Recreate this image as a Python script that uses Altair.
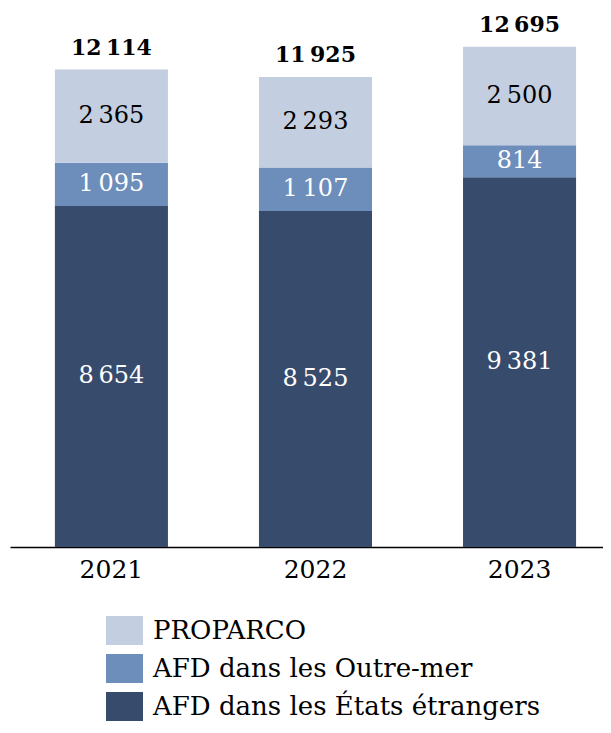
import altair as alt
import pandas as pd

FONT = "DejaVu Serif"

years = ["2021", "2022", "2023"]
etrangers = [8654, 8525, 9381]
outremer = [1095, 1107, 814]
proparco = [2365, 2293, 2500]
totals = [12114, 11925, 12695]
series = ["PROPARCO", "AFD dans les Outre-mer", "AFD dans les États étrangers"]
colors = ["#C3CEE0", "#6D8DBA", "#374B6C"]
label_colors = ["#000000", "#FFFFFF", "#FFFFFF"]


def fmt(v):
    return f"{v:,}".replace(",", "\u202f")


rows = []
for i, yr in enumerate(years):
    for order, (s, vals, lc) in enumerate([
        (series[2], etrangers, label_colors[2]),
        (series[1], outremer, label_colors[1]),
        (series[0], proparco, label_colors[0]),
    ]):
        rows.append(dict(year=yr, series=s, value=vals[i], order=order,
                         label=fmt(vals[i]), lc=lc))
df = pd.DataFrame(rows)
tot = pd.DataFrame(dict(year=years, total=totals, label=[fmt(t) for t in totals]))

xenc = alt.X(
    "year:N",
    scale=alt.Scale(paddingInner=0.446, paddingOuter=0.176, align=0.625),
    axis=alt.Axis(title=None, labelAngle=0, ticks=False, domainColor="black",
                  domainWidth=1.5, labelFont=FONT, labelFontSize=25,
                  labelColor="black", labelPadding=10),
)
yscale = alt.Scale(domain=[0, 13500], nice=False)

base = alt.Chart(df)

bars = base.mark_bar().encode(
    x=xenc,
    y=alt.Y("value:Q", stack="zero", scale=yscale, axis=None),
    color=alt.Color(
        "series:N",
        scale=alt.Scale(domain=series, range=colors),
        legend=alt.Legend(
            title=None, orient="none", legendX=96, legendY=597,
            symbolType="M-1,-0.78H1V0.78H-1Z", symbolSize=1369,
            symbolStrokeWidth=0, symbolOpacity=1,
            labelFont=FONT, labelFontSize=26, labelColor="black",
            labelOffset=10, rowPadding=5, padding=0, labelLimit=0,
        ),
    ),
    order=alt.Order("order:Q"),
)

seg_text = base.transform_stack(
    stack="value", as_=["v0", "v1"], groupby=["year"],
    sort=[alt.SortField("order", order="ascending")],
).transform_calculate(mid="(datum.v0 + datum.v1) / 2").mark_text(
    font=FONT, fontSize=24, baseline="middle", align="center"
).encode(
    x=xenc,
    y=alt.Y("mid:Q", scale=yscale, axis=None),
    text="label:N",
    color=alt.Color("lc:N", scale=None),
)

tot_text = alt.Chart(tot).mark_text(
    font=FONT, fontSize=22, fontWeight="bold", baseline="alphabetic",
    align="center", dy=-15, color="black"
).encode(
    x=xenc,
    y=alt.Y("total:Q", scale=yscale, axis=None),
    text="label:N",
)

chart = alt.layer(bars, seg_text, tot_text).properties(
    width=593, height=532,
    padding={"left": 2, "top": 5, "right": 0, "bottom": 0},
).configure_view(stroke=None)

chart.save("out.html", embed_options={"renderer": "svg", "actions": False})
